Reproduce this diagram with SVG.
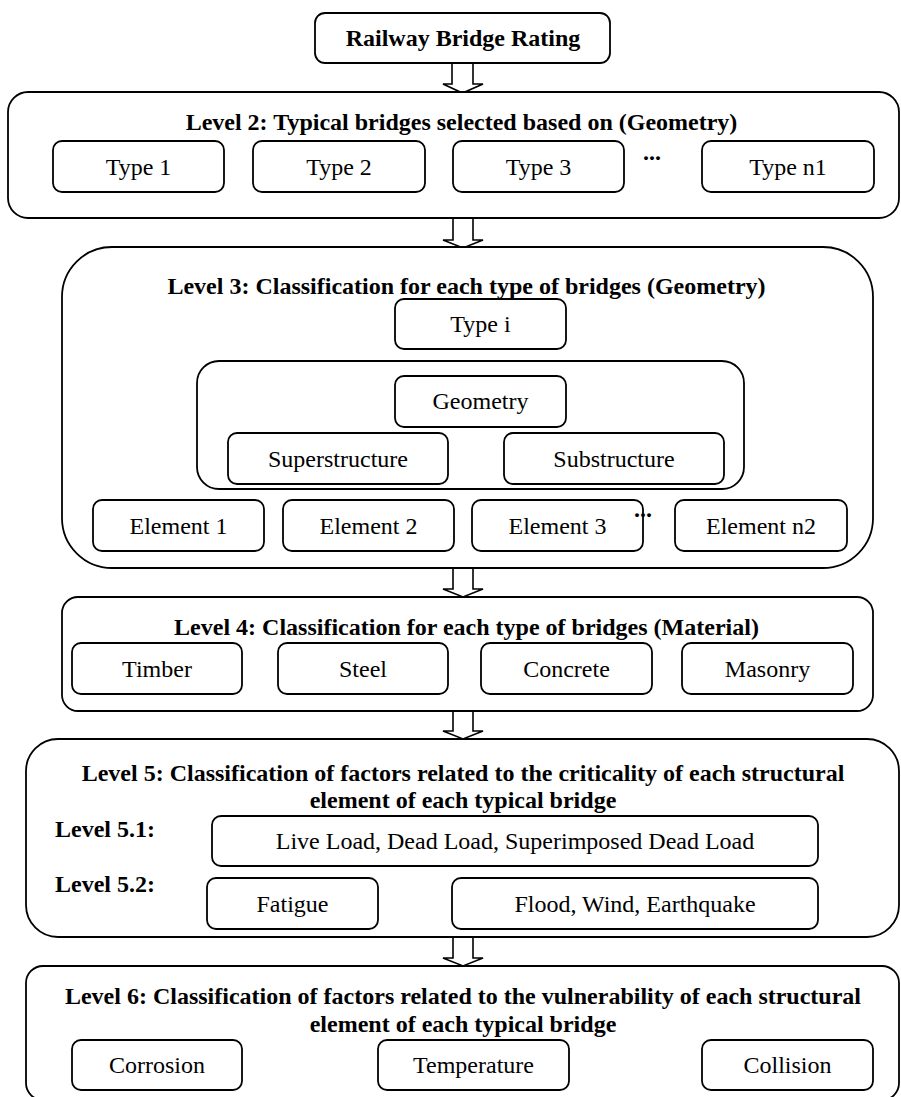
<svg xmlns="http://www.w3.org/2000/svg" width="901" height="1097" viewBox="0 0 901 1097">
<style>
  .box { fill: #fff; stroke: #000; stroke-width: 1.8; }
  .arrow { fill: #fff; stroke: #000; stroke-width: 1.6; stroke-linejoin: miter; }
  text { font-family: "Liberation Serif", "Times New Roman", serif; font-size: 24px; fill: #000; }
  .t { font-weight: bold; text-anchor: middle; }
  .b { font-weight: bold; }
  .l { text-anchor: middle; }
</style>
<rect width="901" height="1097" style="fill:#fff;stroke:none"/>

<g id="connectors">
  <polygon class="arrow" points="452,63 452,84 443,84 462.5,93 483,84 473,84 473,63"/>
  <polygon class="arrow" points="453,218 453,240 443,240 463,248 483,240 473,240 473,218"/>
  <polygon class="arrow" points="453,568 453,589 443,589 463,597 483,589 473,589 473,568"/>
  <polygon class="arrow" points="453,711 453,731 443,731 463,739 483,731 473,731 473,711"/>
  <polygon class="arrow" points="453,937 453,958 443,958 463,966 483,958 473,958 473,937"/>
</g>

<g id="root">
  <rect class="box" x="315" y="13" width="295" height="50" rx="10"/>
  <text class="t" x="463" y="46">Railway Bridge Rating</text>
</g>

<g id="level2">
  <rect class="box" x="8" y="92" width="891" height="126" rx="20"/>
  <text class="t" x="461.5" y="130">Level 2: Typical bridges selected based on (Geometry)</text>
  <g id="type1"><rect class="box" x="53" y="141" width="171" height="51" rx="9"/><text class="l" x="138.5" y="175">Type 1</text></g>
  <g id="type2"><rect class="box" x="253" y="141" width="172" height="51" rx="9"/><text class="l" x="339" y="175">Type 2</text></g>
  <g id="type3"><rect class="box" x="453" y="141" width="171" height="51" rx="9"/><text class="l" x="538.5" y="175">Type 3</text></g>
  <text class="b" x="643" y="160">...</text>
  <g id="typen1"><rect class="box" x="702" y="141" width="172" height="51" rx="9"/><text class="l" x="788" y="175">Type n1</text></g>
</g>

<g id="level3">
  <rect class="box" x="62" y="247" width="811" height="321" rx="50"/>
  <text class="t" x="466.5" y="294">Level 3: Classification for each type of bridges (Geometry)</text>
  <g id="typei"><rect class="box" x="395" y="299" width="171" height="50" rx="9"/><text class="l" x="480.5" y="332">Type i</text></g>
  <g id="geometry-group">
    <rect class="box" x="197" y="361" width="547" height="128" rx="22"/>
    <g id="geometry"><rect class="box" x="395" y="376" width="171" height="51" rx="9"/><text class="l" x="480.5" y="409">Geometry</text></g>
    <g id="superstructure"><rect class="box" x="228" y="433" width="220" height="51" rx="9"/><text class="l" x="338" y="467">Superstructure</text></g>
    <g id="substructure"><rect class="box" x="504" y="433" width="220" height="51" rx="9"/><text class="l" x="614" y="467">Substructure</text></g>
  </g>
  <g id="element1"><rect class="box" x="93" y="500" width="171" height="51" rx="9"/><text class="l" x="178.5" y="534">Element 1</text></g>
  <g id="element2"><rect class="box" x="283" y="500" width="171" height="51" rx="9"/><text class="l" x="368.5" y="534">Element 2</text></g>
  <g id="element3"><rect class="box" x="472" y="500" width="171" height="51" rx="9"/><text class="l" x="557.5" y="534">Element 3</text></g>
  <text class="b" x="634" y="517">...</text>
  <g id="elementn2"><rect class="box" x="675" y="500" width="172" height="51" rx="9"/><text class="l" x="761" y="534">Element n2</text></g>
</g>

<g id="level4">
  <rect class="box" x="62" y="597" width="811" height="114" rx="16"/>
  <text class="t" x="466.5" y="635">Level 4: Classification for each type of bridges (Material)</text>
  <g id="timber"><rect class="box" x="72" y="643" width="170" height="51" rx="9"/><text class="l" x="157" y="677">Timber</text></g>
  <g id="steel"><rect class="box" x="278" y="643" width="170" height="51" rx="9"/><text class="l" x="363" y="677">Steel</text></g>
  <g id="concrete"><rect class="box" x="481" y="643" width="171" height="51" rx="9"/><text class="l" x="566.5" y="677">Concrete</text></g>
  <g id="masonry"><rect class="box" x="682" y="643" width="171" height="51" rx="9"/><text class="l" x="767.5" y="677">Masonry</text></g>
</g>

<g id="level5">
  <rect class="box" x="26" y="739" width="873" height="198" rx="32"/>
  <text class="t" x="463" y="781">Level 5: Classification of factors related to the criticality of each structural</text>
  <text class="t" x="463" y="808">element of each typical bridge</text>
  <text class="b" x="55" y="837">Level 5.1:</text>
  <text class="b" x="55" y="892">Level 5.2:</text>
  <g id="loads"><rect class="box" x="212" y="816" width="606" height="50" rx="9"/><text class="l" x="515" y="849">Live Load, Dead Load, Superimposed Dead Load</text></g>
  <g id="fatigue"><rect class="box" x="207" y="878" width="171" height="51" rx="9"/><text class="l" x="292.5" y="912">Fatigue</text></g>
  <g id="hazards"><rect class="box" x="452" y="878" width="366" height="51" rx="9"/><text class="l" x="635" y="912">Flood, Wind, Earthquake</text></g>
</g>

<g id="level6">
  <rect class="box" x="26" y="966" width="873" height="134" rx="17"/>
  <text class="t" x="463" y="1004">Level 6: Classification of factors related to the vulnerability of each structural</text>
  <text class="t" x="463" y="1032">element of each typical bridge</text>
  <g id="corrosion"><rect class="box" x="72" y="1040" width="170" height="50" rx="9"/><text class="l" x="157" y="1073">Corrosion</text></g>
  <g id="temperature"><rect class="box" x="378" y="1040" width="191" height="50" rx="9"/><text class="l" x="473.5" y="1073">Temperature</text></g>
  <g id="collision"><rect class="box" x="702" y="1040" width="171" height="50" rx="9"/><text class="l" x="787.5" y="1073">Collision</text></g>
</g>
</svg>
